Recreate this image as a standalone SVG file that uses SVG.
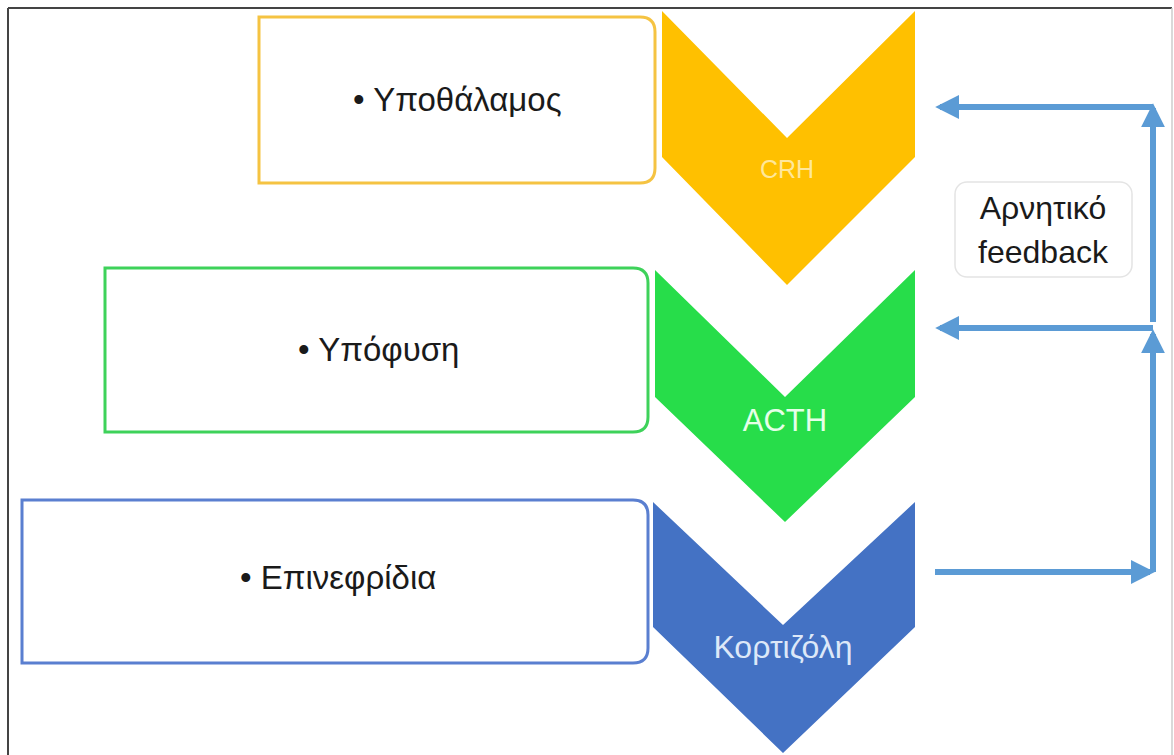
<svg xmlns="http://www.w3.org/2000/svg" width="1174" height="755" viewBox="0 0 1174 755">
<style>
.lbl{font-family:"Liberation Sans",Arial,sans-serif;font-size:33px;fill:#1a1a1a}
.chev{font-family:"Liberation Sans",Arial,sans-serif;text-anchor:middle}
.conn{stroke:#5B9BD5;stroke-width:6;fill:none}
</style>
<defs>
<marker id="ah" viewBox="0 0 10 10" refX="8" refY="5" markerWidth="4" markerHeight="4" orient="auto" markerUnits="strokeWidth">
<path d="M0,0 L10,5 L0,10 z" fill="#5B9BD5"/>
</marker>
</defs>
<rect x="0" y="0" width="1174" height="755" fill="#ffffff"/>
<g id="frame">
<line x1="8" y1="8" x2="1172" y2="8" stroke="#444" stroke-width="2"/>
<line x1="8" y1="8" x2="8" y2="755" stroke="#444" stroke-width="2"/>
<line x1="1172" y1="8" x2="1172" y2="755" stroke="#ccc" stroke-width="1.5"/>
</g>
<g id="box-hypothalamus">
<path d="M259,17 H640 Q655,17 655,32 V168 Q655,183 640,183 H259 Z" fill="#fff" stroke="#F5C342" stroke-width="3"/>
<text class="lbl" x="353" y="111">• Υποθάλαμος</text>
</g>
<g id="box-pituitary">
<path d="M105,268 H633 Q648,268 648,283 V417 Q648,432 633,432 H105 Z" fill="#fff" stroke="#3ED25A" stroke-width="3"/>
<text class="lbl" x="298" y="361">• Υπόφυση</text>
</g>
<g id="box-adrenal">
<path d="M22,500 H633 Q648,500 648,515 V648 Q648,663 633,663 H22 Z" fill="#fff" stroke="#5A7FD0" stroke-width="3"/>
<text class="lbl" x="240" y="589">• Επινεφρίδια</text>
</g>
<g id="chevron-crh">
<polygon points="662,11 787,138 915,11 915,157 787,285 662,157" fill="#FFC000"/>
<text class="chev" x="787" y="178" font-size="25" fill="#FFE79A">CRH</text>
</g>
<g id="chevron-acth">
<polygon points="655,270 785,397 915,270 915,397 785,522 655,397" fill="#27DD4A"/>
<text class="chev" x="785" y="431" font-size="31" fill="#E6FFE8">ACTH</text>
</g>
<g id="chevron-cortisol">
<polygon points="653,502 783,625 915,502 915,627 783,753 653,627" fill="#4472C4"/>
<text class="chev" x="783" y="658" font-size="32" fill="#DDE8F8">Κορτιζόλη</text>
</g>
<g id="label-feedback">
<rect x="955" y="182" width="177" height="95" rx="12" fill="#fff" stroke="#e4e4e4" stroke-width="1.5"/>
<text class="chev" x="1043" y="219" font-size="32" fill="#1a1a1a">Αρνητικό</text>
<text class="chev" x="1043" y="263" font-size="32" fill="#1a1a1a">feedback</text>
</g>
<g id="connectors">
<path class="conn" d="M935,572 H1150" marker-end="url(#ah)"/>
<path class="conn" d="M1153,572 V334" marker-end="url(#ah)"/>
<path class="conn" d="M1153,328 H940" marker-end="url(#ah)"/>
<path class="conn" d="M1153,322 V108" marker-end="url(#ah)"/>
<path class="conn" d="M1153,107 H940" marker-end="url(#ah)"/>
</g>
</svg>
